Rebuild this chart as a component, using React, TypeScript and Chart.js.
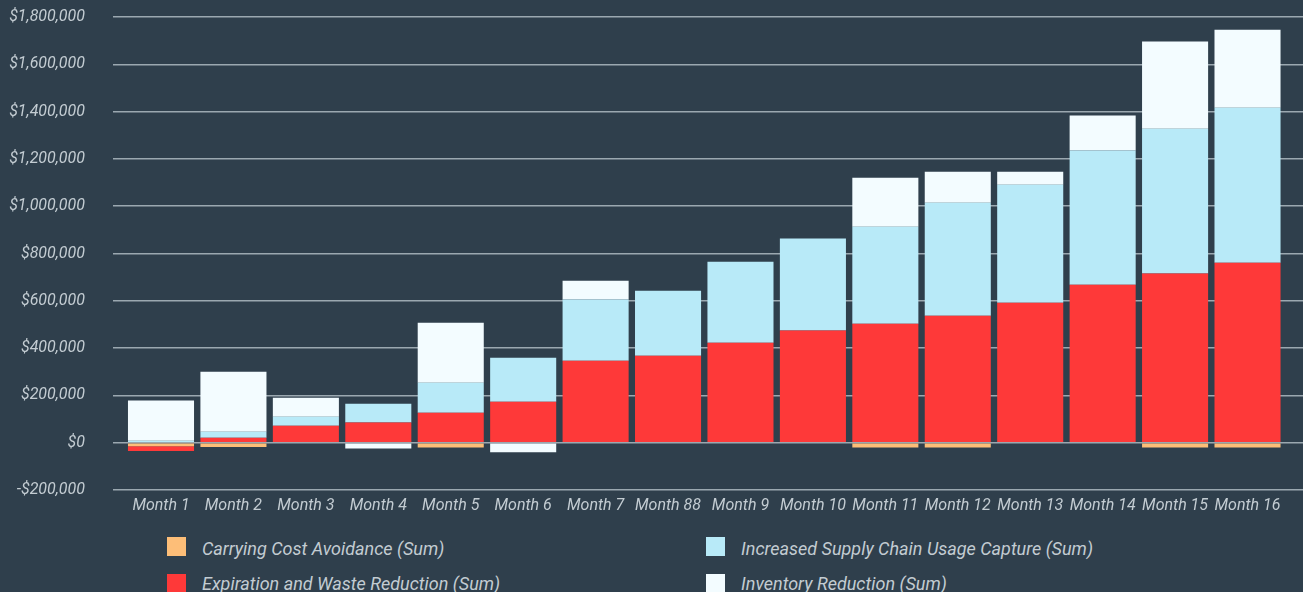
import React, { useEffect, useRef } from 'react';
import { Chart, registerables } from 'chart.js';

Chart.register(...registerables);

const months = [
  'Month 1', 'Month 2', 'Month 3', 'Month 4', 'Month 5', 'Month 6', 'Month 7', 'Month 88',
  'Month 9', 'Month 10', 'Month 11', 'Month 12', 'Month 13', 'Month 14', 'Month 15', 'Month 16',
];

const carryingCostAvoidance = [
  -15000, -18000, 0, 0, -20000, 0, 0, 0, 0, 0, -20000, -20000, 0, 0, -20000, -20000,
];
const expirationWasteReduction = [
  -20000, 21000, 72000, 85000, 127000, 173000, 347000, 368000, 423000, 474000, 503000, 537000,
  592000, 668000, 715000, 761000,
];
const supplyChainUsageCapture = [
  8000, 25000, 38000, 80000, 127000, 186000, 258000, 275000, 342000, 389000, 410000, 478000,
  499000, 567000, 613000, 655000,
];
const inventoryReduction = [
  170000, 254000, 80000, -25000, 253000, -40000, 80000, 0, 0, 0, 207000, 131000, 55000, 148000,
  368000, 330000,
];

const seriesNames = [
  'Carrying Cost Avoidance (Sum)',
  'Expiration and Waste Reduction (Sum)',
  'Increased Supply Chain Usage Capture (Sum)',
  'Inventory Reduction (Sum)',
];
const seriesValues = [
  carryingCostAvoidance,
  expirationWasteReduction,
  supplyChainUsageCapture,
  inventoryReduction,
];
const seriesColors = ['#fdbe78', '#fe3939', '#b8eaf8', '#f3fcff'];

const yMin = -200000;
const yMax = 1800000;
const yStep = 200000;

const BG = '#2f3f4c';
const TEXT = '#c3ccd2';
const FONT = 'Roboto, "Noto Sans", sans-serif';

function money(v: number): string {
  const abs = Math.abs(v).toLocaleString('en-US');
  return v < 0 ? '-$' + abs : '$' + abs;
}

// legend grid (row-major): col1 row1, col2 row1, col1 row2, col2 row2
const legendOrder = [0, 2, 1, 3];

export default function App() {
  const canvasRef = useRef<HTMLCanvasElement | null>(null);

  useEffect(() => {
    if (!canvasRef.current) return;
    const chart = new Chart(canvasRef.current, {
      type: 'bar',
      data: {
        datasets: seriesNames.map((name, s) => ({
          label: name,
          data: seriesValues[s].map((v, i) => ({ x: i + 1, y: v })),
          backgroundColor: seriesColors[s],
          borderWidth: 0,
          barPercentage: 0.912,
          categoryPercentage: 1,
        })),
      },
      options: {
        animation: false,
        responsive: false,
        maintainAspectRatio: false,
        layout: { padding: { top: 17, right: 0, bottom: 0, left: 0 } },
        plugins: {
          legend: { display: false },
          tooltip: { enabled: false },
        },
        scales: {
          x: {
            type: 'linear',
            stacked: true,
            offset: false,
            min: 0.3373,
            max: 16.766,
            grid: { display: false, drawTicks: false },
            border: { display: false },
            afterBuildTicks: (scale: any) => {
              scale.ticks = months.map((_, i) => ({ value: i + 1 }));
            },
            afterFit: (scale: any) => {
              scale.height = 40;
              scale.paddingLeft = 0;
              scale.paddingRight = 0;
            },
            ticks: {
              autoSkip: false,
              maxRotation: 0,
              padding: 6,
              color: TEXT,
              font: { family: FONT, size: 16, style: 'italic' },
              callback: (v: any) => months[Math.round(Number(v)) - 1] ?? '',
            },
          },
          y: {
            stacked: true,
            min: yMin,
            max: yMax,
            grid: { color: '#9ba8b0', lineWidth: 1.5, drawTicks: false },
            border: { display: false },
            afterFit: (scale: any) => {
              scale.width = 113;
              scale.paddingTop = 0;
              scale.paddingBottom = 0;
            },
            ticks: {
              stepSize: yStep,
              padding: 28,
              color: TEXT,
              font: { family: FONT, size: 16, style: 'italic' },
              callback: (v: any) => money(Number(v)),
            },
          },
        },
      } as any,
    });
    return () => chart.destroy();
  }, []);

  return (
    <div
      style={{
        position: 'fixed',
        left: 0,
        top: 0,
        width: 1303,
        height: 592,
        background: BG,
        overflow: 'hidden',
      }}
    >
      <canvas ref={canvasRef} width={1303} height={530} style={{ display: 'block' }} />
      {legendOrder.map((s, k) => {
        const col = k % 2;
        const row = Math.floor(k / 2);
        return (
          <div
            key={s}
            style={{
              position: 'absolute',
              left: col === 0 ? 167 : 706,
              top: row === 0 ? 537 : 574,
              height: 19,
              display: 'flex',
              alignItems: 'center',
              whiteSpace: 'nowrap',
            }}
          >
            <span
              style={{
                display: 'inline-block',
                width: 19,
                height: 19,
                background: seriesColors[s],
                marginRight: 16,
              }}
            />
            <span
              style={{
                fontFamily: FONT,
                fontStyle: 'italic',
                fontSize: 18,
                color: TEXT,
                lineHeight: '19px',
                position: 'relative',
                top: row === 0 ? 2 : 0,
              }}
            >
              {seriesNames[s]}
            </span>
          </div>
        );
      })}
    </div>
  );
}
